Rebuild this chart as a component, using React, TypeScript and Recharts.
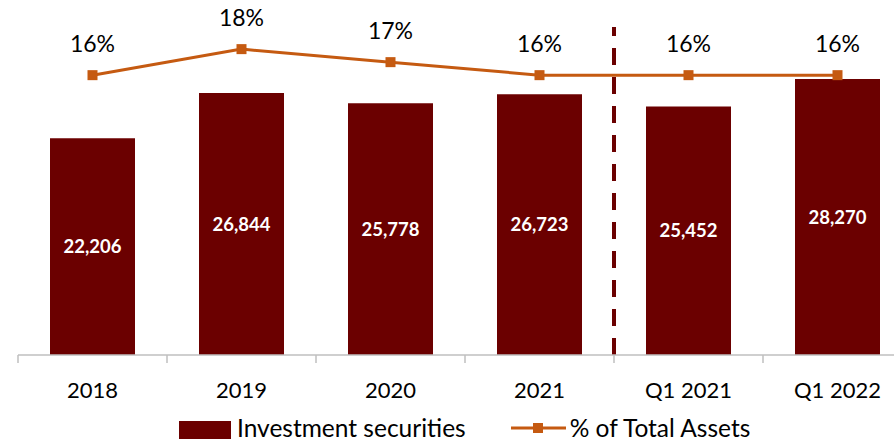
import {
  Bar,
  ComposedChart,
  LabelList,
  Line,
  ReferenceLine,
  XAxis,
  YAxis,
} from 'recharts'

const periods = ['2018', '2019', '2020', '2021', 'Q1 2021', 'Q1 2022']
const investmentSecurities = [22206, 26844, 25778, 26723, 25452, 28270]
const pctOfTotalAssets = [16, 18, 17, 16, 16, 16]

const BAR_COLOR = '#6B0000'
const LINE_COLOR = '#C55A11'
const AXIS_COLOR = '#BFBFBF'
const FONT = 'Lato, "Noto Sans", sans-serif'
const TICK_LEN = 8
const TICK_GAP = 19

const data = periods.map((period, i) => ({
  period,
  amount: investmentSecurities[i],
  pct: pctOfTotalAssets[i],
}))

function SquareDot(props: any) {
  const { cx, cy, index } = props
  if (cx == null || cy == null) return null
  return <rect key={index} x={cx - 5} y={cy - 5} width={10} height={10} fill={LINE_COLOR} />
}

// category label at the band centre, tick mark at the band's left edge (Excel style)
function PeriodTick(props: any) {
  const { x, y, payload, width, visibleTicksCount } = props
  const half = width / visibleTicksCount / 2
  const axisY = y - TICK_LEN - TICK_GAP
  return (
    <g>
      <line
        x1={x - half}
        x2={x - half}
        y1={axisY}
        y2={axisY + TICK_LEN}
        stroke={AXIS_COLOR}
        strokeWidth={1.5}
      />
      <text
        x={x}
        y={y}
        dy="0.71em"
        textAnchor="middle"
        fill="#000"
        fontSize={22}
        fontFamily={FONT}
      >
        {payload.value}
      </text>
    </g>
  )
}

function ChartLegend() {
  return (
    <div
      style={{
        position: 'absolute',
        left: 179,
        top: 416,
        height: 24,
        display: 'flex',
        alignItems: 'center',
        fontFamily: FONT,
        fontSize: 24.5,
        lineHeight: '24px',
        color: '#000',
        whiteSpace: 'nowrap',
      }}
    >
      <span style={{ width: 52, height: 18, background: BAR_COLOR, marginRight: 6, marginTop: 4 }} />
      <span>Investment securities</span>
      <svg width={55} height={12} style={{ marginLeft: 45, marginRight: 4 }}>
        <line x1={0} y1={6} x2={55} y2={6} stroke={LINE_COLOR} strokeWidth={3} />
        <rect x={22} y={1} width={10} height={10} fill={LINE_COLOR} />
      </svg>
      <span>% of Total Assets</span>
    </div>
  )
}

export default function App() {
  return (
    <div
      style={{
        position: 'absolute',
        left: 0,
        top: 0,
        width: 894,
        height: 441,
        overflow: 'hidden',
        background: '#fff',
      }}
    >
      <ComposedChart
        width={912}
        height={441}
        data={data}
        margin={{ top: 27, right: 0, bottom: 46, left: 18 }}
      >
        <XAxis
          xAxisId="cat"
          dataKey="period"
          height={40}
          axisLine={{ stroke: AXIS_COLOR, strokeWidth: 1.5 }}
          tickLine={false}
          tickSize={TICK_LEN}
          tickMargin={TICK_GAP}
          interval={0}
          tick={<PeriodTick />}
        />
        <YAxis yAxisId="amt" hide domain={[0, 33600]} />
        <YAxis yAxisId="pct" hide orientation="right" domain={[-5.5, 19.7]} />
        <Bar
          xAxisId="cat"
          yAxisId="amt"
          dataKey="amount"
          fill={BAR_COLOR}
          barSize={85}
          isAnimationActive={false}
        >
          <LabelList
            dataKey="amount"
            position="center"
            fill="#fff"
            fontSize={18.5}
            fontWeight="bold"
            fontFamily={FONT}
            formatter={(v: any) => Number(v).toLocaleString('en-US')}
          />
        </Bar>
        <ReferenceLine
          xAxisId="cat"
          yAxisId="amt"
          x="Q1 2021"
          position="start"
          stroke={BAR_COLOR}
          strokeWidth={4}
          strokeDasharray="17 12"
        />
        <Line
          xAxisId="cat"
          yAxisId="pct"
          dataKey="pct"
          stroke={LINE_COLOR}
          strokeWidth={3}
          dot={<SquareDot />}
          activeDot={false}
          isAnimationActive={false}
        >
          <LabelList
            dataKey="pct"
            position="top"
            offset={23}
            fill="#000"
            fontSize={23}
            fontFamily={FONT}
            formatter={(v: any) => `${v}%`}
          />
        </Line>
      </ComposedChart>
      <ChartLegend />
    </div>
  )
}
